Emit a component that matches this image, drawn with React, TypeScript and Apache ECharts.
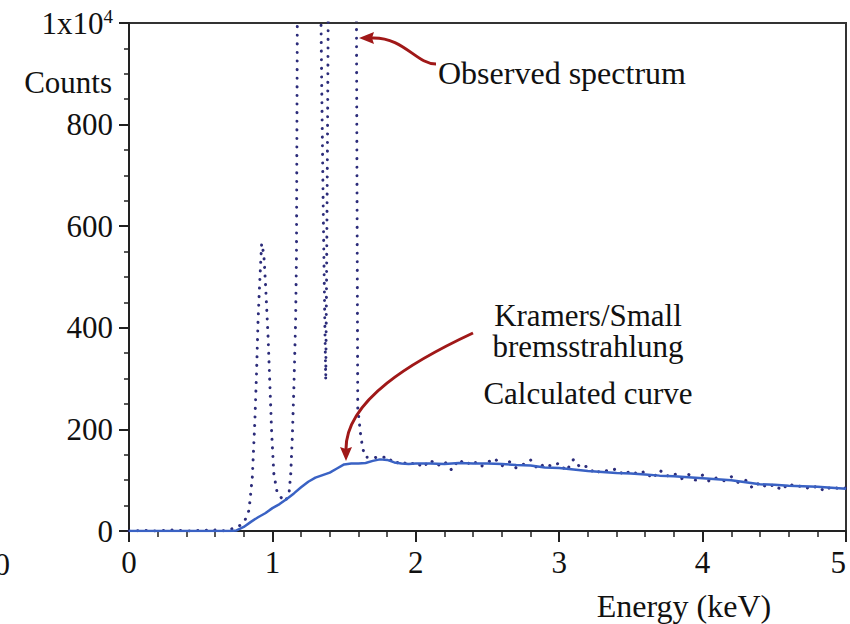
import React, { useEffect, useRef } from "react";
import * as echarts from "echarts";

// Observed spectrum (dotted), energy in keV and counts
const obsEnergy = [
  0, 0.1, 0.2, 0.3, 0.4, 0.5, 0.6, 0.65, 0.7, 0.74, 0.78, 0.81, 0.837, 0.86, 0.878, 0.89, 0.9, 0.91, 0.925,
  0.94, 0.953, 0.97, 0.983, 0.995, 1.01, 1.034, 1.057, 1.09, 1.116, 1.128, 1.139, 1.15, 1.162, 1.168, 1.18,
  1.25, 1.3, 1.335, 1.345, 1.355, 1.365, 1.372, 1.378, 1.384, 1.39, 1.45, 1.55, 1.585, 1.595, 1.615, 1.63, 1.65,
  1.7, 1.75, 1.8, 1.85, 1.9, 1.95, 2.0, 2.05, 2.1, 2.15, 2.2, 2.25, 2.3, 2.35, 2.4, 2.45, 2.5, 2.55, 2.6, 2.65,
  2.7, 2.75, 2.8, 2.85, 2.9, 2.95, 3.0, 3.05, 3.1, 3.15, 3.2, 3.25, 3.3, 3.35, 3.4, 3.45, 3.5, 3.55, 3.6, 3.65,
  3.7, 3.75, 3.8, 3.85, 3.9, 3.95, 4.0, 4.05, 4.1, 4.15, 4.2, 4.25, 4.3, 4.35, 4.4, 4.45, 4.5, 4.55, 4.6, 4.65,
  4.7, 4.75, 4.8, 4.85, 4.9, 4.95, 5.0,
];
const obsCounts = [
  0, 1, 0, 2, 0, 1, 2, 0, 3, 6, 12, 22, 41, 106, 218, 316, 414, 480, 566,
  545, 480, 381, 283, 192, 113, 74, 67, 58, 74, 113, 185, 283, 414, 545, 1500,
  3000, 2500, 1100, 850, 620, 420, 296, 500, 760, 1050, 3000, 2500, 1100, 243, 190, 162, 145,
  146, 143, 147, 132, 138, 129, 136, 125, 140, 128, 137, 120, 141, 130, 139, 126, 135, 143, 128, 137,
  124, 131, 140, 122, 133, 127, 134, 118, 141, 124, 128, 112, 121, 117, 123, 110, 119, 111, 118, 103,
  120, 108, 114, 102, 112, 100, 110, 97, 105, 99, 107, 95, 100, 84, 96, 85, 92, 80, 94, 86,
  90, 82, 89, 78, 88, 83, 85,
];

// Kramers/Small calculated bremsstrahlung curve
const calcEnergy = [
  0, 0.5, 0.7, 0.75, 0.8, 0.85, 0.9, 0.95, 1.0, 1.05, 1.1, 1.15, 1.2, 1.25, 1.3, 1.35, 1.4, 1.45, 1.5, 1.55,
  1.6, 1.65, 1.7, 1.75, 1.8, 1.85, 1.9, 1.95, 2.0, 2.1, 2.2, 2.3, 2.4, 2.5, 2.6, 2.7, 2.8, 2.9, 3.0, 3.1,
  3.2, 3.3, 3.4, 3.5, 3.6, 3.7, 3.8, 3.9, 4.0, 4.1, 4.2, 4.3, 4.4, 4.5, 4.6, 4.7, 4.8, 4.9, 5.0,
];
const calcCounts = [
  0, 0, 0, 1, 8, 18, 27, 35, 45, 53, 63, 74, 86, 97, 105, 110, 115, 123, 131, 133,
  133, 134, 138, 141, 140, 135, 133, 132, 133, 133, 132, 134, 133, 133, 132, 130, 129, 125, 124, 121,
  118, 116, 114, 113, 111, 109, 108, 106, 104, 102, 100, 96, 92, 91, 89, 88, 87, 85, 83,
];

const yMajorLabels = ["0", "200", "400", "600", "800", "1x10"];
const xLabels = ["0", "1", "2", "3", "4", "5"];

const FONT = "'Liberation Serif', 'Times New Roman', serif";
const ARROW = "#a01818";

export default function App() {
  const ref = useRef<HTMLDivElement>(null);
  useEffect(() => {
    if (!ref.current) return;
    const chart = echarts.init(ref.current, undefined, { renderer: "svg" });
    const obsData = obsEnergy.map((e, i) => [e, obsCounts[i]]);
    const calcData = calcEnergy.map((e, i) => [e, calcCounts[i]]);
    chart.setOption({
      animation: false,
      backgroundColor: "#fff",
      grid: {
        left: 129,
        right: 4,
        top: 23,
        bottom: 93,
        outerBoundsMode: "none",
        containLabel: false,
        show: true,
        borderColor: "#333",
        borderWidth: 2,
        backgroundColor: "transparent",
      },
      xAxis: {
        type: "value",
        min: 0,
        max: 5,
        interval: 1,
        axisLine: { show: true, onZero: false, lineStyle: { color: "#222", width: 2 } },
        axisTick: { show: true, inside: false, length: 11, lineStyle: { color: "#222", width: 2 } },
        minorTick: { show: true, splitNumber: 5, length: 6, lineStyle: { color: "#222", width: 1.5 } },
        splitLine: { show: false },
        axisLabel: {
          fontSize: 31,
          fontFamily: FONT,
          color: "#111",
          margin: 16,
          alignMaxLabel: "right",
          formatter: (v: number) => xLabels[Math.round(v)] ?? "",
        },
      },
      yAxis: {
        type: "value",
        min: 0,
        max: 1000,
        interval: 200,
        axisLine: { show: true, lineStyle: { color: "#222", width: 2 } },
        axisTick: { show: true, inside: false, length: 10, lineStyle: { color: "#222", width: 2 } },
        minorTick: { show: true, splitNumber: 4, length: 5, lineStyle: { color: "#222", width: 1.5 } },
        splitLine: { show: false },
        axisLabel: {
          fontSize: 31,
          fontFamily: FONT,
          color: "#111",
          margin: 16,
          formatter: (v: number) => {
            const i = Math.round(v / 200);
            if (i === 5) return "{a|" + yMajorLabels[5] + "}{s|4}";
            return yMajorLabels[i] ?? "";
          },
          rich: {
            a: { fontSize: 31, fontFamily: FONT, color: "#111" },
            s: { fontSize: 19, fontFamily: FONT, color: "#111", padding: [0, 0, 14, 0] },
          },
        },
      },
      series: [
        {
          type: "line",
          data: obsData,
          showSymbol: false,
          clip: true,
          lineStyle: { color: "#2c2c7a", width: 3, type: [0.1, 8.5], cap: "round" },
          z: 2,
        },
        {
          type: "line",
          data: calcData,
          showSymbol: false,
          clip: true,
          lineStyle: { color: "#3a62c4", width: 2.5 },
          z: 3,
        },
      ],
      graphic: [
        {
          type: "text",
          x: 112,
          y: 82,
          style: { text: "Counts", font: `31px ${FONT}`, fill: "#111", align: "right", verticalAlign: "middle" },
        },
        {
          type: "text",
          x: 10,
          y: 564,
          style: { text: "0", font: `31px ${FONT}`, fill: "#111", align: "right", verticalAlign: "middle" },
        },
        {
          type: "text",
          x: 684,
          y: 606,
          style: { text: "Energy (keV)", font: `32px ${FONT}`, fill: "#111", align: "center", verticalAlign: "middle" },
        },
        {
          type: "text",
          x: 438,
          y: 73,
          style: { text: "Observed spectrum", font: `32px ${FONT}`, fill: "#111", align: "left", verticalAlign: "middle" },
        },
        {
          type: "text",
          x: 588,
          y: 331,
          style: {
            text: "Kramers/Small\nbremsstrahlung",
            font: `31px ${FONT}`,
            lineHeight: 31,
            fill: "#111",
            align: "center",
            verticalAlign: "middle",
          },
        },
        {
          type: "text",
          x: 588,
          y: 393,
          style: { text: "Calculated curve", font: `31px ${FONT}`, fill: "#111", align: "center", verticalAlign: "middle" },
        },
        {
          type: "bezierCurve",
          shape: { x1: 436, y1: 64, cpx1: 416, cpy1: 64, cpx2: 404, cpy2: 37, x2: 372, y2: 38 },
          style: { stroke: ARROW, lineWidth: 3, fill: "none" },
          z: 10,
        },
        {
          type: "polygon",
          shape: { points: [[359, 38], [374, 32], [372, 38], [374, 44]] },
          style: { fill: ARROW },
          z: 10,
        },
        {
          type: "bezierCurve",
          shape: { x1: 473, y1: 333, cpx1: 413, cpy1: 361, cpx2: 346, cpy2: 400, x2: 346, y2: 449 },
          style: { stroke: ARROW, lineWidth: 3, fill: "none" },
          z: 10,
        },
        {
          type: "polygon",
          shape: { points: [[346, 461], [340, 447], [346, 449], [352, 447]] },
          style: { fill: ARROW },
          z: 10,
        },
      ],
    });
    return () => chart.dispose();
  }, []);
  return <div ref={ref} style={{ position: "absolute", left: 0, top: 0, width: 850, height: 624 }} />;
}
